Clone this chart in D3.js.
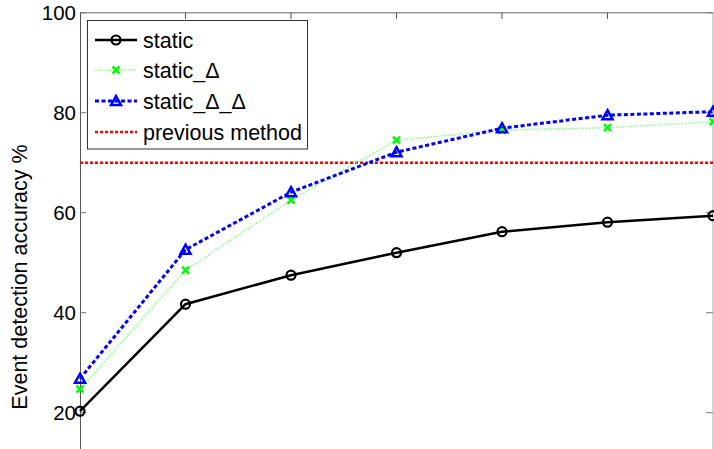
<!DOCTYPE html>
<html><head><meta charset="utf-8">
<script src="https://cdn.jsdelivr.net/npm/d3@7"></script>
<style>body{margin:0;background:#fff}svg{display:block}</style>
</head><body>
<svg id="c" width="714" height="449"></svg>
<script>
const categories = [1, 2, 3, 4, 5, 6, 7];
const staticVals = [20.3, 41.7, 47.5, 52.0, 56.2, 58.1, 59.4];
const staticDelta = [24.7, 48.5, 62.5, 74.5, 76.5, 77.0, 78.2];
const staticDeltaDelta = [26.8, 52.6, 64.1, 72.1, 76.9, 79.5, 80.2];
const previousMethod = 70;
const yTicks = [20, 40, 60, 80, 100];
const seriesNames = ["static", "static_Δ", "static_Δ_Δ", "previous method"];

const svg = d3.select("#c");
const font = "'Liberation Sans', Arial, sans-serif";
const x = d3.scaleLinear().domain([1, 7]).range([80, 713]);
const y = d3.scaleLinear().domain([10, 100]).range([462.7, 12.7]);

// axes frame
svg.append("line").attr("x1", 80).attr("x2", 713).attr("y1", 12.7).attr("y2", 12.7)
  .attr("stroke", "#999").attr("stroke-width", 1.5);
svg.append("line").attr("x1", 80.5).attr("x2", 80.5).attr("y1", 12).attr("y2", 449)
  .attr("stroke", "#555").attr("stroke-width", 1);
svg.append("line").attr("x1", 713).attr("x2", 713).attr("y1", 12).attr("y2", 449)
  .attr("stroke", "#aaa").attr("stroke-width", 1);

// left axis (inward ticks)
const yAxis = d3.axisLeft(y).tickValues(yTicks).tickSize(0).tickPadding(4);
const ga = svg.append("g").attr("transform", "translate(80,0)").call(yAxis);
ga.select(".domain").remove();
ga.selectAll("text").attr("font-family", font).attr("font-size", 20.5).attr("fill", "#000");
svg.selectAll(".ltick").data(yTicks).join("line")
  .attr("x1", 80).attr("x2", 86).attr("y1", d => y(d)).attr("y2", d => y(d))
  .attr("stroke", "#777").attr("stroke-width", 1);
svg.selectAll(".rtick").data(yTicks).join("line")
  .attr("x1", 706).attr("x2", 713).attr("y1", d => y(d)).attr("y2", d => y(d))
  .attr("stroke", "#777").attr("stroke-width", 1);
svg.selectAll(".ttick").data(categories.slice(1, -1)).join("line")
  .attr("x1", d => x(d)).attr("x2", d => x(d)).attr("y1", 12.7).attr("y2", 19)
  .attr("stroke", "#555").attr("stroke-width", 1);

// y label
svg.append("text").attr("transform", "translate(27,277) rotate(-90)")
  .attr("text-anchor", "middle").attr("font-family", font).attr("font-size", 21.5)
  .text("Event detection accuracy %");

// previous method
svg.append("line").attr("x1", 80).attr("x2", 713)
  .attr("y1", y(previousMethod)).attr("y2", y(previousMethod))
  .attr("stroke", "#ff0000").attr("stroke-width", 2.5).attr("stroke-dasharray", "3,2");

const line = d3.line().x((d, i) => x(categories[i])).y(d => y(d));

// static_Δ (green dotted)
svg.append("path").attr("d", line(staticDelta)).attr("fill", "none")
  .attr("stroke", "#88ff88").attr("stroke-width", 1.5).attr("stroke-dasharray", "1.5,1.5");
// static_Δ_Δ (blue dashed)
svg.append("path").attr("d", line(staticDeltaDelta)).attr("fill", "none")
  .attr("stroke", "#0000ff").attr("stroke-width", 3).attr("stroke-dasharray", "4,2.5");
// static
svg.append("path").attr("d", line(staticVals)).attr("fill", "none")
  .attr("stroke", "#000").attr("stroke-width", 2.5);

function xMark(g, cx, cy) {
  g.append("path").attr("d", `M${cx-3.5},${cy-3.5}L${cx+3.5},${cy+3.5}M${cx-3.5},${cy+3.5}L${cx+3.5},${cy-3.5}`)
    .attr("stroke", "#00ff00").attr("stroke-width", 2.5).attr("fill", "none");
}
function triMark(g, cx, cy) {
  g.append("path").attr("d", `M${cx},${cy-5}L${cx+5},${cy+4}L${cx-5},${cy+4}Z`)
    .attr("stroke", "#0000ff").attr("stroke-width", 2.5).attr("fill", "none");
}
function circMark(g, cx, cy) {
  g.append("circle").attr("cx", cx).attr("cy", cy).attr("r", 4.5)
    .attr("stroke", "#000").attr("stroke-width", 2.2).attr("fill", "none");
}
const mk = svg.append("g");
staticDelta.forEach((v, i) => xMark(mk, x(categories[i]), y(v)));
staticDeltaDelta.forEach((v, i) => triMark(mk, x(categories[i]), y(v)));
staticVals.forEach((v, i) => circMark(mk, x(categories[i]), y(v)));

// legend
const lg = svg.append("g");
lg.append("rect").attr("x", 87.5).attr("y", 20.5).attr("width", 220).attr("height", 128.5)
  .attr("fill", "#fff").attr("stroke", "#333").attr("stroke-width", 1);
const rows = [40, 70, 101, 132];
const styles = [
  {c: "#000", w: 2.5, d: null},
  {c: "#88ff88", w: 1.5, d: "1.5,1.5"},
  {c: "#0000ff", w: 3, d: "4,2.5"},
  {c: "#ff0000", w: 2.5, d: "3,2"}
];
seriesNames.forEach((n, i) => {
  const s = styles[i];
  const l = lg.append("line").attr("x1", 95).attr("x2", 137).attr("y1", rows[i]).attr("y2", rows[i])
    .attr("stroke", s.c).attr("stroke-width", s.w);
  if (s.d) l.attr("stroke-dasharray", s.d);
  if (i === 0) circMark(lg, 116, rows[i]);
  if (i === 1) xMark(lg, 116, rows[i]);
  if (i === 2) triMark(lg, 116, rows[i]);
  lg.append("text").attr("x", 143).attr("y", rows[i]).attr("dy", "0.36em")
    .attr("font-family", font).attr("font-size", 21.5).text(n);
});
</script>
</body></html>
